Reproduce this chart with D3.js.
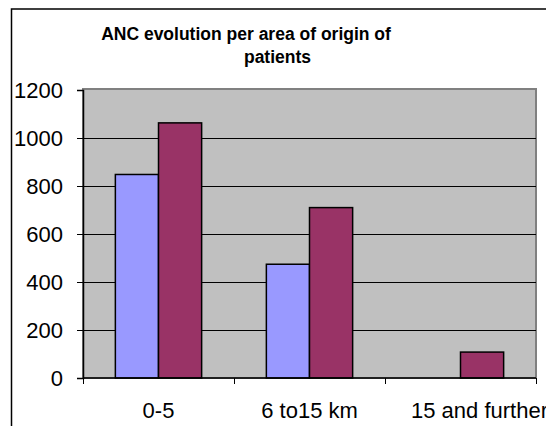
<!DOCTYPE html>
<html>
<head>
<meta charset="utf-8">
<script src="https://cdn.jsdelivr.net/npm/d3@7"></script>
<style>
  html, body { margin: 0; padding: 0; background: #fff; }
  svg { display: block; font-family: "Liberation Sans", Arial, sans-serif; }
</style>
</head>
<body>
<svg id="chart" width="546" height="426"></svg>
<script>
// ANC visits by area of origin of patients, two periods
const categories = ["0-5", "6 to15 km", "15 and further"];
const seriesNames = ["Period 1", "Period 2"];
const period1 = [848, 474, 0];
const period2 = [1063, 710, 108];
const yTicks = [0, 200, 400, 600, 800, 1000, 1200];
const titleLines = ["ANC evolution per area of origin of", "patients"];

const colors = { "Period 1": "#9999ff", "Period 2": "#993366" };

const svg = d3.select("#chart");
const plot = { left: 83, right: 536, top: 90, bottom: 378 };

// outer chart frame (continues past the visible edge)
svg.append("path")
  .attr("d", `M11.5,426 V9 H546`)
  .attr("fill", "none")
  .attr("stroke", "#000")
  .attr("stroke-width", 1.5);

// title
const title = svg.append("g").attr("font-weight", "bold").attr("font-size", 17.5).attr("fill", "#000");
title.append("text").attr("x", 246).attr("y", 40).attr("text-anchor", "middle").text(titleLines[0]);
title.append("text").attr("x", 277.5).attr("y", 63).attr("text-anchor", "middle").text(titleLines[1]);

const x = d3.scaleBand().domain(categories).range([plot.left, plot.right]).padding(0);
const xInner = d3.scaleBand().domain(seriesNames).range([0, x.bandwidth()])
  .paddingInner(0).paddingOuter(0.75);
const y = d3.scaleLinear().domain([0, 1200]).range([plot.bottom, plot.top]);

// plot area background
svg.append("rect")
  .attr("x", plot.left).attr("y", y(1200) - 1)
  .attr("width", plot.right - plot.left).attr("height", plot.bottom - y(1200) + 1)
  .attr("fill", "#c0c0c0")
  .attr("stroke", "#808080").attr("stroke-width", 2);

// horizontal gridlines
svg.append("g").selectAll("line")
  .data(yTicks.filter(d => d > 0 && d < 1200))
  .join("line")
  .attr("x1", plot.left).attr("x2", plot.right)
  .attr("y1", d => Math.round(y(d)) + 0.5).attr("y2", d => Math.round(y(d)) + 0.5)
  .attr("stroke", "#000").attr("stroke-width", 1);

// bars
const rows = categories.map((c, i) => ({
  cat: c,
  vals: [
    { s: seriesNames[0], v: period1[i] },
    { s: seriesNames[1], v: period2[i] }
  ]
}));
svg.append("g").selectAll("g")
  .data(rows)
  .join("g")
  .attr("transform", d => `translate(${x(d.cat)},0)`)
  .selectAll("rect")
  .data(d => d.vals.filter(e => e.v > 0))
  .join("rect")
  .attr("x", d => xInner(d.s))
  .attr("width", xInner.bandwidth())
  .attr("y", d => y(d.v))
  .attr("height", d => y(0) - y(d.v))
  .attr("fill", d => colors[d.s])
  .attr("stroke", "#000").attr("stroke-width", 1.5);

// y axis
const yAxis = svg.append("g")
  .attr("transform", `translate(${plot.left},0)`)
  .call(d3.axisLeft(y).tickValues(yTicks).tickSize(6).tickPadding(14).tickFormat(d3.format("d")));
yAxis.select(".domain").attr("stroke", "#000").attr("stroke-width", 1.5);
yAxis.selectAll(".tick line").attr("stroke", "#000");
yAxis.selectAll("text").attr("font-size", 22).attr("fill", "#000")
  .attr("font-family", "'Liberation Sans', Arial, sans-serif");

// x axis: labels centred in each category, ticks on category boundaries
const xAxis = svg.append("g")
  .attr("transform", `translate(0,${plot.bottom})`)
  .call(d3.axisBottom(x).tickSize(0).tickPadding(24));
xAxis.select(".domain").remove();
xAxis.selectAll("text").attr("font-size", 22).attr("fill", "#000")
  .attr("font-family", "'Liberation Sans', Arial, sans-serif");
// the last label runs off the chart's right edge and is clipped there
xAxis.selectAll(".tick").filter(d => d === categories[categories.length - 1])
  .select("text").attr("text-anchor", "start")
  .attr("dx", -x.bandwidth() / 2 + 26);

svg.append("line")
  .attr("x1", plot.left).attr("x2", plot.right)
  .attr("y1", plot.bottom).attr("y2", plot.bottom)
  .attr("stroke", "#000").attr("stroke-width", 1.5);
const bounds = categories.map(c => x(c)).concat([plot.right]);
svg.append("g").selectAll("line")
  .data(bounds)
  .join("line")
  .attr("x1", d => Math.round(d) + 0.5).attr("x2", d => Math.round(d) + 0.5)
  .attr("y1", plot.bottom).attr("y2", plot.bottom + 6)
  .attr("stroke", "#000");
</script>
</body>
</html>
